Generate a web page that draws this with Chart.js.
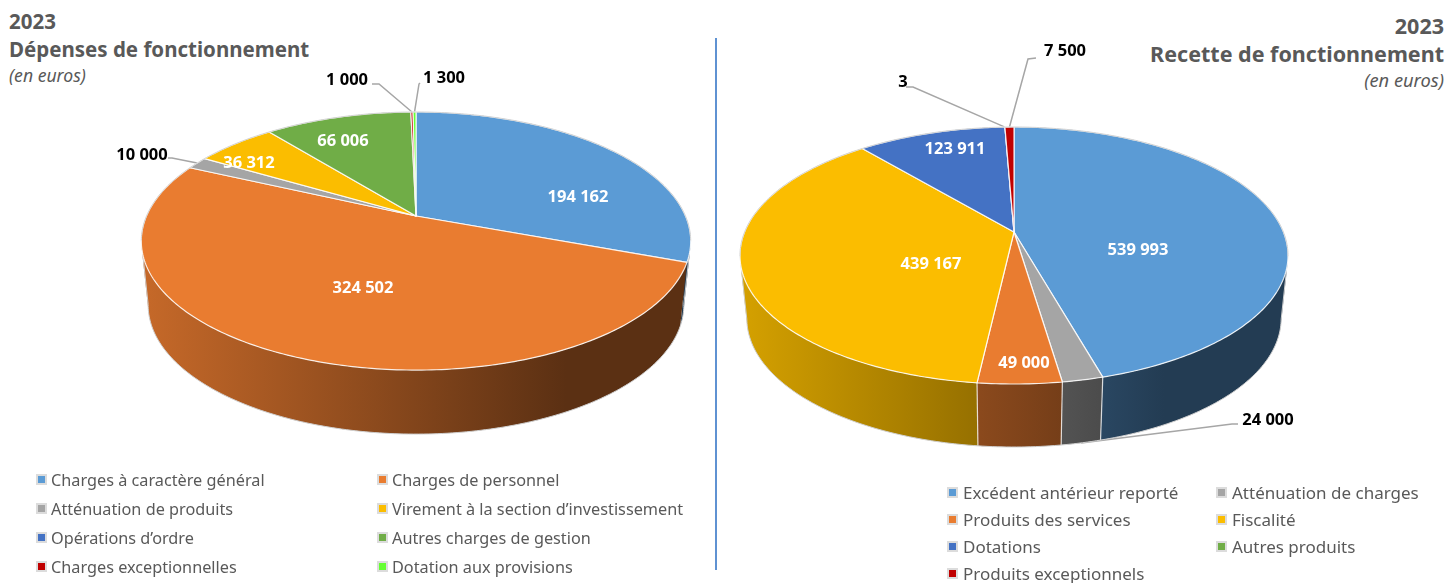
<!DOCTYPE html>
<html lang="fr">
<head>
<meta charset="utf-8">
<title>Budget 2023</title>
<script src="https://cdn.jsdelivr.net/npm/chart.js@4"></script>
<style>
  html, body { margin: 0; padding: 0; background: #fff; }
  body { width: 1446px; height: 583px; position: relative; overflow: hidden; font-family: 'Noto Sans', sans-serif; color: #595959; }
  canvas { position: absolute; left: 0; top: 0; }
  .title { position: absolute; font-weight: 700; line-height: 28px; white-space: nowrap; }
  .title em { display: block; font-weight: 400; line-height: 24px; }
  .title.left { font-size: 20.5px; }
  .title.left em { font-size: 17.6px; }
  .title.right { text-align: right; font-size: 21.5px; }
  .title.right em { font-size: 18.3px; }
  .divider { position: absolute; left: 715px; top: 38px; width: 2px; height: 532px; background: #5f92d2; }
  .legend-item { position: absolute; line-height: 22px; white-space: nowrap; }
  .legend-item i { position: absolute; left: -15px; top: 5px; width: 7px; height: 7px; border: 2px solid #dcdcdc; }
</style>
</head>
<body>
<div class="title left" style="left:9px;top:7px">2023<br>Dépenses de fonctionnement<em>(en euros)</em></div>
<div class="title right" style="right:2px;top:12px">2023<br>Recette de fonctionnement<em>(en euros)</em></div>
<div class="divider"></div>
<canvas id="depenses" width="1446" height="583"></canvas>
<canvas id="recettes" width="1446" height="583"></canvas>
<script>
const depCategories = ['Charges à caractère général', 'Charges de personnel', 'Atténuation de produits', 'Virement à la section d’investissement', 'Opérations d’ordre', 'Autres charges de gestion', 'Charges exceptionnelles', 'Dotation aux provisions'];
const depValues = [194162, 324502, 10000, 36312, 0, 66006, 1000, 1300];
const depColors = ['#5B9BD5', '#E97C30', '#A5A5A5', '#FBBD00', '#4472C4', '#70AD47', '#C00000', '#66FF33'];

const recCategories = ['Excédent antérieur reporté', 'Atténuation de charges', 'Produits des services', 'Fiscalité', 'Dotations', 'Autres produits', 'Produits exceptionnels'];
const recValues = [539993, 24000, 49000, 439167, 123911, 3, 7500];
const recColors = ['#5B9BD5', '#A5A5A5', '#E97C30', '#FBBD00', '#4472C4', '#70AD47', '#C00000'];

// where each value label sits: [x, y, colour, elbow of the leader line]
const depLabelSpots = [
  [578, 197, '#fff'], [363, 288, '#fff'], [142, 155, '#000', [172, 158, 168, 158]], [249, 163, '#fff'],
  null, [343, 141, '#fff'], [347, 80, '#000', [379, 84, 372, 84]], [444, 78, '#000', [419, 84, 420, 83]]
];
const recLabelSpots = [
  [1138, 250, '#fff'], [1268, 420, '#000', [1232, 424, 1238, 424], true], [1024, 363, '#fff'], [931, 264, '#fff'],
  [955, 149, '#fff'], [903, 82, '#000', [913, 87, 906, 87]], [1065, 51, '#000', [1028, 59, 1036, 58]]
];

// legend cells: text x, y of the text middle
const depLegendX = [51, 392];
const depLegendY = [480, 509, 538, 567];
const recLegendX = [963, 1232];
const recLegendY = [493, 520, 547, 574];

const SIDE_STOPS = [[0, 0.85], [0.427, 0.6], [0.774, 0.39], [1, 0.39]];
const WIDEST_ANGLE = 0.19;

function project(geo, angle) {
  const u = Math.cos(angle);
  const v = Math.sin(angle);
  const w = 1 - geo.k * v;
  return { x: geo.cx + geo.rx * u / w, y: geo.cy + geo.ry * v / w };
}

function projectBase(geo, angle) {
  const p = project(geo, angle);
  return { x: geo.cx + (p.x - geo.cx) * 0.975, y: p.y + geo.depth };
}

function rimPoints(fn, geo, start, end) {
  const pts = [];
  const steps = Math.max(2, Math.ceil((end - start) / 0.015));
  for (let i = 0; i <= steps; i += 1) {
    pts.push(fn(geo, start + (end - start) * i / steps));
  }
  return pts;
}

function tracePoints(ctx, pts) {
  pts.forEach(p => ctx.lineTo(p.x, p.y));
}

function shade(hex, f) {
  const n = parseInt(hex.slice(1), 16);
  const r = Math.round((n >> 16 & 255) * f);
  const g = Math.round((n >> 8 & 255) * f);
  const b = Math.round((n & 255) * f);
  return `rgb(${r},${g},${b})`;
}

function drawLeaders(ctx, geo, arcs, spots) {
  ctx.strokeStyle = '#a6a6a6';
  ctx.lineWidth = 1.5;
  arcs.forEach((arc, i) => {
    const spot = spots[i];
    if (!spot || !spot[3]) return;
    const mid = (arc.startAngle + arc.endAngle) / 2;
    const from = spot[4] ? projectBase(geo, mid) : project(geo, mid);
    ctx.beginPath();
    ctx.moveTo(from.x, from.y);
    ctx.lineTo(spot[3][0], spot[3][1]);
    ctx.lineTo(spot[3][2], spot[3][3]);
    ctx.stroke();
  });
}

// wall of one slice as small quads, all wound the same way so they fill as one shape
function addWallQuads(ctx, top, base) {
  for (let i = 0; i < top.length - 1; i += 1) {
    const quad = [top[i], top[i + 1], base[i + 1], base[i]];
    let area = 0;
    quad.forEach((p, j) => {
      const q = quad[(j + 1) % 4];
      area += p.x * q.y - q.x * p.y;
    });
    if (area < 0) quad.reverse();
    ctx.moveTo(quad[0].x, quad[0].y);
    tracePoints(ctx, quad.slice(1));
    ctx.closePath();
  }
}

function drawSides(ctx, geo, arcs, colors) {
  const order = arcs.map((arc, i) => i).filter(i => arcs[i].endAngle > arcs[i].startAngle)
    .sort((a, b) => Math.sin((arcs[a].startAngle + arcs[a].endAngle) / 2) - Math.sin((arcs[b].startAngle + arcs[b].endAngle) / 2));
  order.forEach(i => {
    const arc = arcs[i];
    const grad = ctx.createLinearGradient(geo.cx - 274, 0, geo.cx + 274, 0);
    SIDE_STOPS.forEach(s => grad.addColorStop(s[0], shade(colors[i], s[1])));
    ctx.beginPath();
    addWallQuads(ctx,
      rimPoints(project, geo, arc.startAngle, arc.endAngle),
      rimPoints(projectBase, geo, arc.startAngle, arc.endAngle));
    ctx.fillStyle = grad;
    ctx.fill();
  });
  // slice edges on the visible front wall
  ctx.strokeStyle = 'rgba(255,255,255,0.75)';
  ctx.lineWidth = 1.2;
  arcs.forEach((arc, i) => {
    if (arc.endAngle <= arc.startAngle || Math.sin(arc.endAngle) <= 0.5) return;
    const a = project(geo, arc.endAngle);
    const b = projectBase(geo, arc.endAngle);
    ctx.beginPath();
    ctx.moveTo(a.x, a.y);
    ctx.lineTo(b.x, b.y);
    ctx.stroke();
  });
  // outline of the wall: down one side, along the lower rim, up the other
  const rim = rimPoints(projectBase, geo, WIDEST_ANGLE, Math.PI - WIDEST_ANGLE);
  const first = project(geo, WIDEST_ANGLE);
  const last = project(geo, Math.PI - WIDEST_ANGLE);
  ctx.strokeStyle = '#cfcfcf';
  ctx.lineWidth = 1;
  ctx.beginPath();
  ctx.moveTo(first.x, first.y);
  tracePoints(ctx, rim);
  ctx.lineTo(last.x, last.y);
  ctx.stroke();
}

// the library keeps the angles, the top face is only drawn in perspective
function drawTopFace(ctx, geo, arc) {
  if (arc.endAngle <= arc.startAngle) return;
  ctx.beginPath();
  ctx.moveTo(geo.cx, geo.cy);
  tracePoints(ctx, rimPoints(project, geo, arc.startAngle, arc.endAngle));
  ctx.closePath();
  ctx.fillStyle = arc.options.backgroundColor;
  ctx.fill();
  ctx.strokeStyle = 'rgba(255,255,255,0.85)';
  ctx.lineWidth = 1.2;
  ctx.lineJoin = 'round';
  ctx.stroke();
}

function fmtValue(v) {
  return String(v).replace(/\B(?=(\d{3})+$)/g, ' ');
}

const pie3dPlugin = {
  id: 'pie3d',
  beforeDatasetsDraw(chart, args, opts) {
    const ctx = chart.ctx;
    const arcs = chart.getDatasetMeta(0).data;
    ctx.save();
    drawLeaders(ctx, opts.geo, arcs, opts.spots);
    drawSides(ctx, opts.geo, arcs, chart.data.datasets[0].backgroundColor);
    ctx.restore();
    arcs.forEach(arc => {
      arc.draw = c => drawTopFace(c, opts.geo, arc);
    });
  },
  afterDatasetsDraw(chart, args, opts) {
    const ctx = chart.ctx;
    const values = chart.data.datasets[0].data;
    ctx.save();
    // grey hairline on the far edge of the top face
    const back = rimPoints(project, opts.geo, -Math.PI - WIDEST_ANGLE, WIDEST_ANGLE);
    ctx.strokeStyle = '#d2d2d2';
    ctx.lineWidth = 1;
    ctx.beginPath();
    ctx.moveTo(back[0].x, back[0].y);
    tracePoints(ctx, back);
    ctx.stroke();
    ctx.font = '700 16.5px "Noto Sans"';
    ctx.textAlign = 'center';
    ctx.textBaseline = 'middle';
    opts.spots.forEach((spot, i) => {
      if (!spot) return;
      ctx.fillStyle = spot[2];
      ctx.fillText(fmtValue(values[i]), spot[0], spot[1]);
    });
    ctx.restore();
  }
};

function renderPie(id, labels, values, colors, geo, spots) {
  return new Chart(document.getElementById(id), {
    type: 'pie',
    data: { labels, datasets: [{ data: values, backgroundColor: colors, borderWidth: 0 }] },
    options: {
      responsive: false,
      animation: false,
      events: [],
      plugins: {
        legend: { display: false },
        tooltip: { enabled: false },
        pie3d: { geo, spots }
      }
    },
    plugins: [pie3dPlugin]
  });
}

function renderLegend(labels, colors, xs, ys, fontSize, swatchLeft) {
  labels.forEach((label, i) => {
    const node = document.createElement('div');
    node.className = 'legend-item';
    node.style.left = `${xs[i % 2]}px`;
    node.style.top = `${ys[Math.floor(i / 2)] - 11}px`;
    node.style.fontSize = `${fontSize}px`;
    node.innerHTML = `<i style="background:${colors[i]};left:${swatchLeft}px"></i>${label}`;
    document.body.appendChild(node);
  });
}

renderPie('depenses', depCategories, depValues, depColors, { cx: 416, cy: 216, rx: 269.5, ry: 124.2, k: 0.194, depth: 64 }, depLabelSpots);
renderPie('recettes', recCategories, recValues, recColors, { cx: 1014, cy: 232, rx: 269.4, ry: 124.2, k: 0.183, depth: 63 }, recLabelSpots);
renderLegend(depCategories, depColors, depLegendX, depLegendY, 16.25, -15);
renderLegend(recCategories, recColors, recLegendX, recLegendY, 17, -16);
</script>
</body>
</html>
